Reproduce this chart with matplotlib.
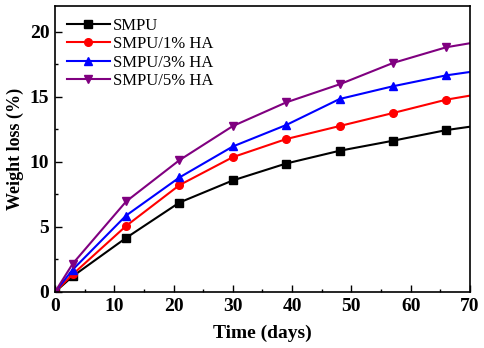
import matplotlib
matplotlib.use('Agg')
import matplotlib.pyplot as plt
from matplotlib.ticker import MultipleLocator

plt.rcParams['font.family'] = ['Liberation Serif', 'DejaVu Serif']

# 浸泡时间 (天) 与失重数据
days = [0, 3, 12, 21, 30, 39, 48, 57, 66, 70]
smpu = [0, 1.21, 4.16, 6.88, 8.58, 9.88, 10.86, 11.63, 12.45, 12.71]
smpu_1ha = [0, 1.36, 5.08, 8.22, 10.37, 11.76, 12.76, 13.76, 14.79, 15.10]
smpu_3ha = [0, 1.72, 5.88, 8.81, 11.19, 12.84, 14.84, 15.82, 16.66, 16.92]
smpu_5ha = [0, 2.18, 6.96, 10.14, 12.76, 14.58, 15.97, 17.61, 18.82, 19.13]

series = [
    (smpu, 'SMPU', 'black', 's'),
    (smpu_1ha, 'SMPU/1% HA', 'red', 'o'),
    (smpu_3ha, 'SMPU/3% HA', 'blue', '^'),
    (smpu_5ha, 'SMPU/5% HA', '#800080', 'v'),
]

fig = plt.figure(figsize=(4.84, 3.48), dpi=100)
ax = fig.add_axes([0.1136, 0.161, 0.8574, 0.822])

for vals, label, color, marker in series:
    # 最后一个点 (70 天) 只画线不画标记
    ax.plot(days, vals, color=color, marker=marker, markersize=5.5,
            linewidth=1.5, label=label, markevery=list(range(len(days) - 1)))

ax.set_xlim(0, 70)
ax.set_ylim(0, 22)
ax.xaxis.set_major_locator(MultipleLocator(10))
ax.xaxis.set_minor_locator(MultipleLocator(5))
ax.yaxis.set_major_locator(MultipleLocator(5))
ax.yaxis.set_minor_locator(MultipleLocator(2.5))
ax.tick_params(which='both', direction='in', top=False, right=False)
ax.tick_params(which='major', length=5, width=1, labelsize=14, pad=4)
ax.tick_params(which='minor', length=2.5, width=1)
for lbl in ax.get_xticklabels() + ax.get_yticklabels():
    lbl.set_fontweight('bold')
for sp in ax.spines.values():
    sp.set_linewidth(1.2)

ax.set_xlabel('Time (days)', fontsize=14, fontweight='bold', labelpad=7)
ax.set_ylabel('Weight loss (%)', fontsize=13, fontweight='bold', labelpad=4)

ax.legend(loc='upper left', frameon=False, fontsize=12, handlelength=2.6,
          handletextpad=0.2, labelspacing=0.15, borderaxespad=0.3)

fig.savefig('out.png', dpi=100)
